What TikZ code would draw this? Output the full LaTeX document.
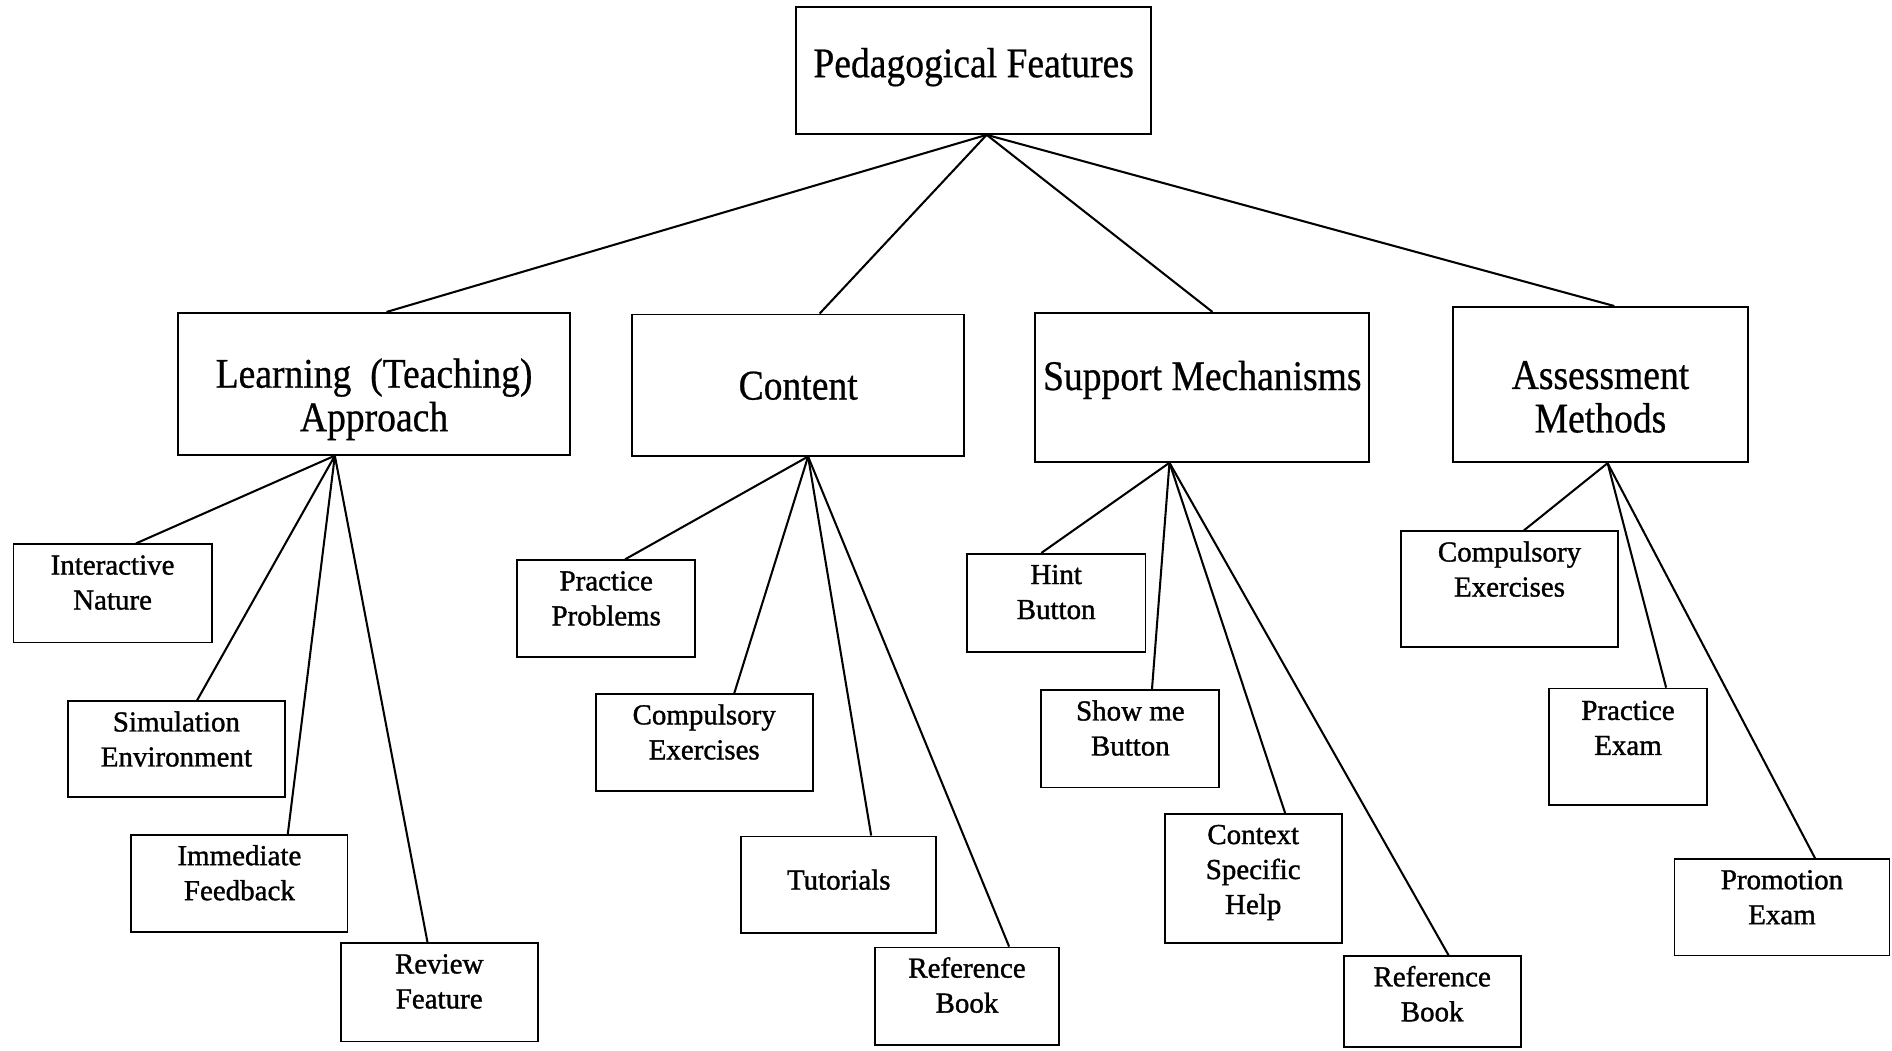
\documentclass[tikz,border=0pt]{standalone}
\usepackage{fontspec}
\setmainfont{Liberation Serif}
\newfontfamily\headfont[FakeStretch=0.89,FakeBold=0.6]{Liberation Serif}
\newfontfamily\leaffont[FakeBold=1.2]{Liberation Serif}
% box of fixed size, text hung from the top (#3 = first baseline)
\newcommand{\boxtext}[4]{\parbox[c][#2pt][t]{#1pt}{\centering\rule{0pt}{#3pt}#4}}

\begin{document}
\begin{tikzpicture}
    [x=1pt, y=-1pt,
    head/.style={draw, line width=1.5pt, inner sep=0pt, font=\headfont\fontsize{35}{36}\selectfont},
    leaf/.style={draw, line width=1.5pt, inner sep=0pt, font=\leaffont\fontsize{24}{29}\selectfont},
    link/.style={line width=1.7pt}]

    \useasboundingbox (0,0) rectangle (1568,871);

    \node (ped) [head] at (806.9,58.5) {\boxtext{294.3}{105}{58}{Pedagogical Features}};

    \node (learn) [head] at (310,318.1) {\boxtext{325}{117.6}{62}{Learning~~(Teaching)\\Approach}};
    \node (content) [head] at (661.5,319.1) {\boxtext{275.3}{117}{70.5}{Content}};
    \node (support) [head] at (996.4,321) {\boxtext{276.8}{123.5}{64}{Support Mechanisms}};
    \node (assess) [head] at (1326.4,318.7) {\boxtext{244.6}{128.7}{68}{Assessment\\Methods}};

    \node (inter) [leaf] at (93.3,491.8) {\boxtext{164.3}{81.3}{25}{Interactive\\Nature}};
    \node (simul) [leaf] at (146.2,620.9) {\boxtext{180.2}{79.4}{25}{Simulation\\Environment}};
    \node (immed) [leaf] at (198.4,732.3) {\boxtext{179.2}{80.6}{25}{Immediate\\Feedback}};
    \node (review) [leaf] at (364,822.4) {\boxtext{163.3}{81.4}{25}{Review\\Feature}};

    \node (pract) [leaf] at (502.4,504.5) {\boxtext{147.6}{80.5}{25}{Practice\\Problems}};
    \node (ccomp) [leaf] at (583.6,615.4) {\boxtext{179.8}{80.2}{25}{Compulsory\\Exercises}};
    \node (tutor) [leaf] at (695.1,733.3) {\boxtext{161.8}{80.2}{44}{Tutorials}};
    \node (cref) [leaf] at (801.4,825.7) {\boxtext{152.1}{81}{25}{Reference\\Book}};

    \node (hint) [leaf] at (875.3,499.7) {\boxtext{148}{81.4}{25}{Hint\\Button}};
    \node (show) [leaf] at (936.8,612.4) {\boxtext{147.5}{80.6}{25}{Show me\\Button}};
    \node (context) [leaf] at (1038.6,728.1) {\boxtext{146.8}{107.2}{25}{Context\\Specific\\Help}};
    \node (sref) [leaf] at (1186.9,830.2) {\boxtext{146.6}{75.6}{25}{Reference\\Book}};

    \node (acomp) [leaf] at (1251,488.4) {\boxtext{180.2}{96.1}{25}{Compulsory\\Exercises}};
    \node (aprac) [leaf] at (1349.2,618.7) {\boxtext{130.9}{96.2}{26}{Practice\\Exam}};
    \node (promo) [leaf] at (1476.8,751.9) {\boxtext{178.1}{79.9}{25}{Promotion\\Exam}};

    \draw [link] ([xshift=10.8]ped.south) -- ([xshift=10.3]learn.north);
    \draw [link] ([xshift=10.8]ped.south) -- ([xshift=17.8]content.north);
    \draw [link] ([xshift=10.8]ped.south) -- ([xshift=8.4]support.north);
    \draw [link] ([xshift=10.8]ped.south) -- ([xshift=11.4]assess.north);

    \draw [link] ([xshift=-32.5]learn.south) -- ([xshift=19.3]inter.north);
    \draw [link] ([xshift=-32.5]learn.south) -- ([xshift=17.1]simul.north);
    \draw [link] ([xshift=-32.5]learn.south) -- ([xshift=40.1]immed.north);
    \draw [link] ([xshift=-32.5]learn.south) -- ([xshift=-9.7]review.north);

    \draw [link] ([xshift=8.2]content.south) -- ([xshift=15.7]pract.north);
    \draw [link] ([xshift=8.2]content.south) -- ([xshift=24.9]ccomp.north);
    \draw [link] ([xshift=8.2]content.south) -- ([xshift=26.9]tutor.north);
    \draw [link] ([xshift=8.2]content.south) -- ([xshift=34.9]cref.north);

    \draw [link] ([xshift=-27.2]support.south) -- ([xshift=-12.3]hint.north);
    \draw [link] ([xshift=-27.2]support.south) -- ([xshift=17.9]show.north);
    \draw [link] ([xshift=-27.2]support.south) -- ([xshift=26.4]context.north);
    \draw [link] ([xshift=-27.2]support.south) -- ([xshift=13.6]sref.north);

    \draw [link] ([xshift=5.9]assess.south) -- ([xshift=11.9]acomp.north);
    \draw [link] ([xshift=5.9]assess.south) -- ([xshift=31.6]aprac.north);
    \draw [link] ([xshift=5.9]assess.south) -- ([xshift=27.4]promo.north);

\end{tikzpicture}
\end{document}
